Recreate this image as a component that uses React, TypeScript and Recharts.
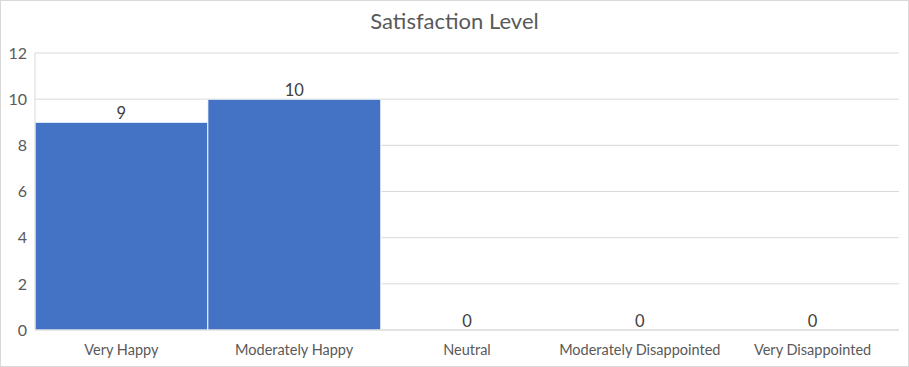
import React from "react";
import { ComposedChart, Bar, Line, XAxis, YAxis, CartesianGrid, LabelList } from "recharts";

const categories = ["Very Happy", "Moderately Happy", "Neutral", "Moderately Disappointed", "Very Disappointed"];
const counts = [9, 10, 0, 0, 0];
const yTicks = [0, 2, 4, 6, 8, 10, 12];

const data = categories.map((name, i) => ({ name, value: counts[i] }));

const FONT = "Lato, 'Open Sans', sans-serif";

export default function App() {
  return (
    <div
      style={{
        position: "absolute",
        left: 0,
        top: 0,
        width: 909,
        height: 367,
        boxSizing: "border-box",
        border: "1px solid #D9D9D9",
        background: "#fff",
        fontFamily: FONT,
      }}
    >
      <div
        style={{
          position: "absolute",
          left: 0,
          top: 5,
          width: "100%",
          textAlign: "center",
          fontSize: 22,
          color: "#595959",
          lineHeight: "30px",
        }}
      >
        Satisfaction Level
      </div>
      <div style={{ position: "absolute", left: -1, top: -1 }}>
        <ComposedChart
          width={909}
          height={367}
          data={data}
          margin={{ top: 53, right: 10, bottom: 0, left: 0 }}
          barCategoryGap={0}
          barGap={0}
        >
          <CartesianGrid vertical={false} stroke="#D9D9D9" strokeWidth={1} />
          <XAxis
            dataKey="name"
            height={37}
            axisLine={{ stroke: "#D9D9D9" }}
            tickLine={false}
            tickMargin={9}
            tick={{ fill: "#595959", fontSize: 14.5, fontFamily: FONT }}
            interval={0}
          />
          <YAxis
            width={35}
            domain={[0, 12]}
            ticks={yTicks}
            axisLine={{ stroke: "#D9D9D9" }}
            tickLine={false}
            tick={{ fill: "#595959", fontSize: 16, fontFamily: FONT }}
          />
          <Bar dataKey="value" fill="#4472C4" stroke="#FFFFFF" strokeWidth={1} isAnimationActive={false} />
          <Line
            dataKey="value"
            stroke="none"
            dot={false}
            activeDot={false}
            legendType="none"
            isAnimationActive={false}
          >
            <LabelList dataKey="value" position="top" offset={3} fill="#404040" fontSize={16.5} fontFamily={FONT} />
          </Line>
        </ComposedChart>
      </div>
    </div>
  );
}
